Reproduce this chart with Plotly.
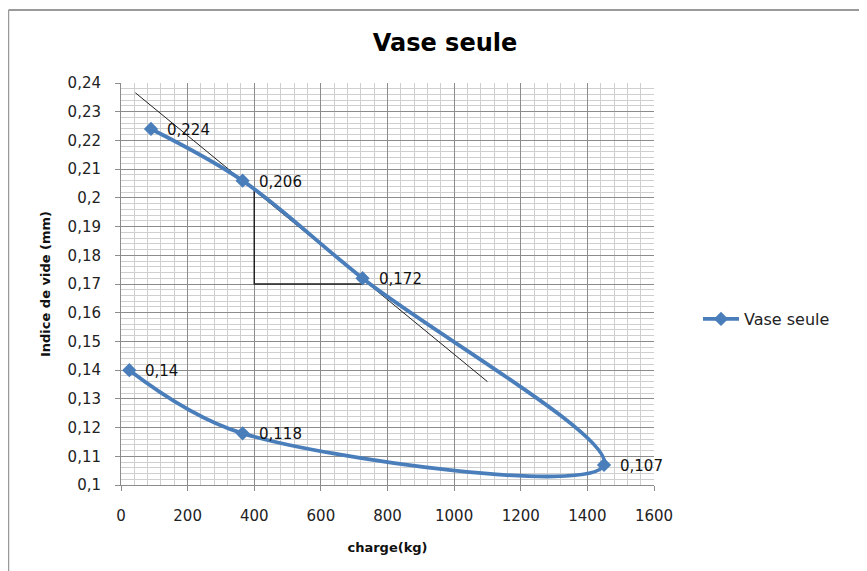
import plotly.graph_objects as go

# Data
charge = [90, 365, 725, 1450, 365, 25]
indice = [0.224, 0.206, 0.172, 0.107, 0.118, 0.14]
labels = ["0,224", "0,206", "0,172", "0,107", "0,118", "0,14"]

tangent_x = [43, 1100]
tangent_y = [0.2366, 0.136]
triangle_x = [400, 400, 725]
triangle_y = [0.2025, 0.17, 0.17]

x_ticks = [0, 200, 400, 600, 800, 1000, 1200, 1400, 1600]
y_ticks = [0.10, 0.11, 0.12, 0.13, 0.14, 0.15, 0.16, 0.17, 0.18, 0.19, 0.20, 0.21, 0.22, 0.23, 0.24]
y_ticktext = ["0,1", "0,11", "0,12", "0,13", "0,14", "0,15", "0,16", "0,17", "0,18", "0,19",
              "0,2", "0,21", "0,22", "0,23", "0,24"]

BLUE = "#4a7ebb"
FONT = "DejaVu Sans"

OFF = 8  # page body margin
W, H = 867 - OFF, 571 - OFF
L = 121 - OFF
T = 83 - OFF
R = W - (654 - OFF)
B = H - (485 - OFF)
PW, PH = W - L - R, H - T - B


def px(x):
    # page pixel -> paper coordinate
    return (x - OFF - L) / PW


def py(y):
    return (H - B - (y - OFF)) / PH


fig = go.Figure()

fig.add_trace(go.Scatter(
    x=tangent_x, y=tangent_y, mode="lines",
    line=dict(color="#222222", width=1), showlegend=False, hoverinfo="skip"))
fig.add_trace(go.Scatter(
    x=triangle_x, y=triangle_y, mode="lines",
    line=dict(color="#222222", width=1.5), showlegend=False, hoverinfo="skip"))

fig.add_trace(go.Scatter(
    x=charge, y=indice, mode="lines+markers",
    name="Vase seule",
    line=dict(color=BLUE, width=3.8, shape="spline", smoothing=1.0),
    marker=dict(symbol="diamond", size=11, color=BLUE),
))

for cx, cy, lab in zip(charge, indice, labels):
    fig.add_annotation(x=cx, y=cy, text=lab, showarrow=False,
                       xanchor="left", yanchor="middle", xshift=14, yshift=-1,
                       font=dict(family=FONT, size=15, color="#111111"))

fig.update_layout(
    width=W, height=H,
    margin=dict(l=L, r=R, t=T, b=B),
    paper_bgcolor="white", plot_bgcolor="white",
    font=dict(family=FONT, color="#222222"),
    title=dict(text="<b>Vase seule</b>", x=(445 - OFF) / W, xanchor="center",
               y=1 - (43 - OFF) / H, yanchor="middle",
               font=dict(family=FONT, size=24, color="#000000")),
    showlegend=True,
    legend=dict(x=px(698), xanchor="left", y=py(319), yanchor="middle",
                itemwidth=36,
                font=dict(family=FONT, size=16, color="#222222"),
                bgcolor="rgba(0,0,0,0)"),
)

fig.update_xaxes(
    range=[0, 1600], tickvals=x_ticks,
    showgrid=True, gridcolor="#8c8c8c", gridwidth=1,
    minor=dict(dtick=40, showgrid=True, gridcolor="#cfcfcf", gridwidth=1),
    showline=True, linecolor="#8c8c8c", linewidth=1,
    ticks="outside", ticklen=5, tickcolor="#8c8c8c",
    tickfont=dict(family=FONT, size=15, color="#222222"),
    ticklabelstandoff=12,
    zeroline=False,
    title=dict(text="<b>charge(kg)</b>", font=dict(family=FONT, size=13, color="#111111"), standoff=18),
)
fig.update_yaxes(
    range=[0.1, 0.24], tickvals=y_ticks, ticktext=y_ticktext,
    showgrid=True, gridcolor="#8c8c8c", gridwidth=1,
    minor=dict(dtick=0.002, showgrid=True, gridcolor="#cfcfcf", gridwidth=1),
    showline=True, linecolor="#8c8c8c", linewidth=1,
    ticks="outside", ticklen=5, tickcolor="#8c8c8c",
    tickfont=dict(family=FONT, size=15, color="#222222"),
    ticklabelstandoff=11,
    zeroline=False,
    title=dict(text="<b>Indice de vide (mm)</b>", font=dict(family=FONT, size=13, color="#111111"), standoff=14),
)

# outer chart border (top and left)
fig.add_shape(type="line", xref="paper", yref="paper",
              x0=px(OFF + 0.5), x1=px(W + OFF + 5), y0=py(10), y1=py(10),
              line=dict(color="#9a9a9a", width=2))
fig.add_shape(type="line", xref="paper", yref="paper",
              x0=px(OFF + 0.5), x1=px(OFF + 0.5), y0=py(10), y1=py(H + OFF + 5),
              line=dict(color="#9a9a9a", width=1.5))

fig.write_html("out.html")
